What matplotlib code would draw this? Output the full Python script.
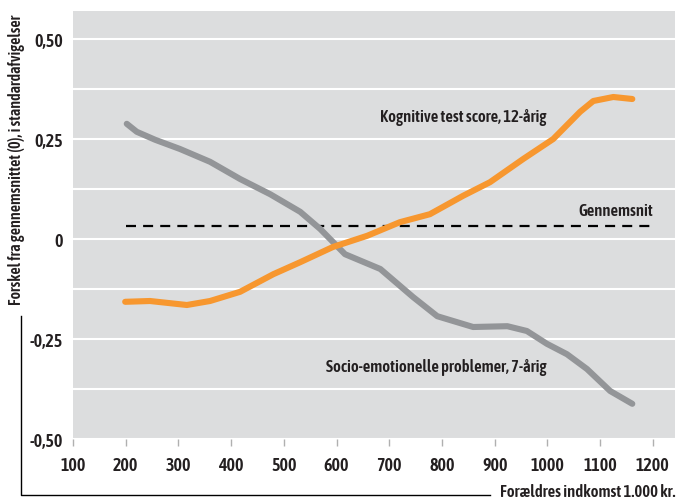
import matplotlib
matplotlib.use("Agg")
import matplotlib.pyplot as plt
from matplotlib import font_manager as fm
from matplotlib.lines import Line2D
import numpy as np

# data (indkomst i 1.000 kr., forskel i standardafvigelser)
kog_x = [199, 246, 316, 360, 417, 480, 531, 593, 658, 720, 777, 840, 891, 954, 1011, 1062, 1087, 1125, 1161]
kog_y = [-0.157, -0.155, -0.165, -0.155, -0.132, -0.088, -0.058, -0.020, 0.008, 0.042, 0.062, 0.108, 0.142, 0.200, 0.250, 0.318, 0.345, 0.355, 0.350]

soc_x = [202, 221, 256, 303, 360, 417, 474, 531, 569, 616, 683, 745, 791, 859, 924, 961, 999, 1037, 1075, 1119, 1161]
soc_y = [0.288, 0.268, 0.248, 0.225, 0.193, 0.150, 0.112, 0.068, 0.025, -0.038, -0.075, -0.145, -0.193, -0.220, -0.218, -0.230, -0.262, -0.288, -0.325, -0.380, -0.412]

gns_x = [200, 1200]
gns_y = [0.033, 0.033]

xticks = [100, 200, 300, 400, 500, 600, 700, 800, 900, 1000, 1100, 1200]
yticks = [-0.5, -0.25, 0, 0.25, 0.5]
ylabels = ["-0,50", "-0,25", "0", "0,25", "0,50"]

orange = "#f7972f"
grey = "#939598"
txt = "#231f20"


def narrow_font():
    # look for a condensed / narrow face, semibold if possible
    best = None
    for f in fm.fontManager.ttflist:
        nm = (f.name + " " + f.fname).lower()
        if not ("condensed" in nm or "narrow" in nm or "condensed" in str(f.stretch)):
            continue
        if "extracondensed" in nm or "semicondensed" in nm or "italic" in nm:
            continue
        w = f.weight if isinstance(f.weight, int) else 400
        score = abs(w - 600)
        if best is None or score < best[0]:
            best = (score, f.fname)
    return best[1] if best else None


fpath = narrow_font()


def fp(size):
    if fpath:
        return fm.FontProperties(fname=fpath, size=size)
    return fm.FontProperties(family="Roboto", weight="bold", size=size * 0.85)


fig = plt.figure(figsize=(6.78, 5.02), dpi=100)
ax = fig.add_axes([73 / 678, 1 - 440 / 502, 602 / 678, 428 / 502])
ax.set_facecolor("#dcddde")

for g in np.arange(-0.5, 0.51, 0.125):
    ax.axhline(g, color="white", lw=1.5, zorder=1)

ax.plot(gns_x, gns_y, color="black", lw=1.6, ls=(0, (4.5, 3.2)), zorder=2)
ax.plot(soc_x, soc_y, color=grey, lw=4.4, solid_capstyle="round", solid_joinstyle="round", zorder=3)
ax.plot(kog_x, kog_y, color=orange, lw=4.4, solid_capstyle="round", solid_joinstyle="round", zorder=4)

ax.text(999, 0.307, "Kognitive test score, 12-årig", ha="right", va="center",
        fontproperties=fp(12), color=txt)
ax.text(1200, 0.072, "Gennemsnit", ha="right", va="center",
        fontproperties=fp(12), color=txt)
ax.text(999, -0.32, "Socio-emotionelle problemer, 7-årig", ha="right", va="center",
        fontproperties=fp(12), color=txt)

ax.set_xlim(100, 1242)
ax.set_ylim(-0.5, 0.57)
ax.set_xticks(xticks)
ax.set_xticklabels([str(t) for t in xticks], fontproperties=fp(13), color=txt)
ax.set_yticks(yticks)
ax.set_yticklabels(ylabels, fontproperties=fp(13), color=txt)
ax.tick_params(axis="x", length=5, width=1, color="#b0b0b0", pad=7)
ax.tick_params(axis="y", length=0, pad=7)
for s in ax.spines.values():
    s.set_visible(False)

fig.text(17 / 678, 1 - 160 / 502, "Forskel fra gennemsnittet (0), i standardafvigelser",
         rotation=90, ha="center", va="center", fontproperties=fp(11.5), color=txt)

# bracket for the x axis title
fig.add_artist(Line2D([21 / 678, 21 / 678, 490 / 678], [1 - 317 / 502, 1 - 496 / 502, 1 - 496 / 502],
                      color="black", lw=1))
fig.text(675 / 678, 1 - 493 / 502, "Forældres indkomst 1.000 kr.", ha="right", va="center",
         fontproperties=fp(12), color=txt)

fig.savefig("out.png", dpi=100)
